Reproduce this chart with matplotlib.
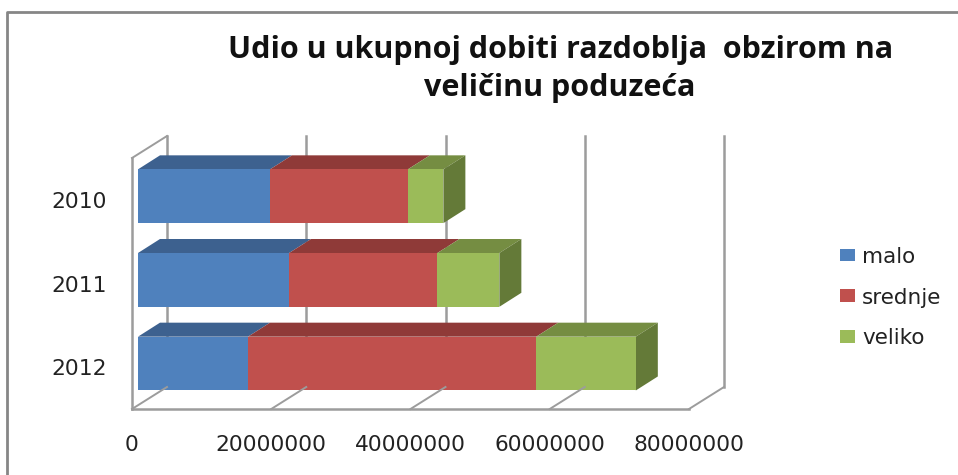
import matplotlib
matplotlib.use('Agg')
import matplotlib.pyplot as plt
from matplotlib.lines import Line2D
from matplotlib.patches import Polygon
from matplotlib.transforms import Affine2D

years = ['2010', '2011', '2012']
malo = [18960000, 21700000, 15800000]
srednje = [19800000, 21300000, 41400000]
veliko = [5100000, 8900000, 14300000]
x_ticks = [0, 20000000, 40000000, 60000000, 80000000]

series = [('malo', malo, '#4F81BD', '#3D618F', '#3D618F'),
          ('srednje', srednje, '#C0504D', '#8F3A38', '#8F3A38'),
          ('veliko', veliko, '#9BBB59', '#758D42', '#647A38')]

W, H = 958, 475
GRID = '#9C9C9C'

fig = plt.figure(figsize=(W / 100, H / 100), dpi=100, facecolor='white')
ax = fig.add_axes([132 / W, (H - 409) / H, (689 - 132) / W, (409 - 158) / H])
ax.set_xlim(0, 80000000)
ax.set_ylim(2.5, -0.5)
ax.patch.set_visible(False)
for s in ax.spines.values():
    s.set_visible(False)

ax.set_xticks(x_ticks, [str(t) for t in x_ticks], fontsize=15.7, color='#222222')
ax.set_yticks(range(len(years)), years, fontsize=15.7, color='#222222')
ax.tick_params(axis='x', length=0, pad=18.5)
ax.tick_params(axis='y', length=0, pad=18)


def shifted(dx, dy):
    return ax.transData + Affine2D().translate(dx, dy)


# walls and floor of the fake 3d box
back = shifted(35, 22)
for t in x_ticks:
    ax.plot([t, t], [-0.5, 2.5], color=GRID, lw=1.8, transform=back, clip_on=False, zorder=1)
    fx, fy = ax.transData.transform((t, 2.5))
    fig.add_artist(Line2D([fx / W, (fx + 35) / W], [fy / H, (fy + 22) / H], color=GRID, lw=1.4, zorder=1))
ax.plot([0, 80000000], [2.5, 2.5], color=GRID, lw=1.8, clip_on=False, zorder=1)
ax.plot([0, 0], [-0.5, 2.5], color=GRID, lw=1.8, clip_on=False, zorder=1)
tx, ty = ax.transData.transform((0, -0.5))
fig.add_artist(Line2D([tx / W, (tx + 35) / W], [ty / H, (ty + 22) / H], color=GRID, lw=1.4, zorder=1))

# bars: front face from barh, top and side faces as offset polygons
front = shifted(6, 3.6)
DX, DY = 22, 14
height = 0.643
left = [0, 0, 0]
handles = []
for name, vals, col, top_col, side_col in series:
    bars = ax.barh(range(len(years)), vals, height=height, left=left, color=col, label=name, zorder=3)
    for p in bars:
        p.set_transform(front)
        p.set_clip_on(False)
    handles.append(bars)
    for i, v in enumerate(vals):
        x0, y0 = front.transform((left[i], i + height / 2))
        x1, y1 = front.transform((left[i] + v, i - height / 2))
        ax.add_patch(Polygon([(x0, y1), (x1, y1), (x1 + DX, y1 + DY), (x0 + DX, y1 + DY)],
                             closed=True, facecolor=top_col, edgecolor='none',
                             transform=None, clip_on=False, zorder=2))
        if name == 'veliko':
            ax.add_patch(Polygon([(x1, y0), (x1, y1), (x1 + DX, y1 + DY), (x1 + DX, y0 + DY)],
                                 closed=True, facecolor=side_col, edgecolor='none',
                                 transform=None, clip_on=False, zorder=2))
        left[i] += v

fig.legend(handles=handles, loc='center left', bbox_to_anchor=(840 / W, (H - 297.5) / H), frameon=False,
           fontsize=15.5, handlelength=0.7, handleheight=0.55, handletextpad=0.33, labelspacing=0.97,
           labelcolor='#222222', borderpad=0, borderaxespad=0)

fig.text(561 / W, (H - 50) / H, 'Udio u ukupnoj dobiti razdoblja  obzirom na', ha='center', va='center',
         family='Open Sans', fontweight='bold', fontsize=22, color='#111111')
fig.text(560 / W, (H - 88) / H, 'veličinu poduzeća', ha='center', va='center',
         family='Open Sans', fontweight='bold', fontsize=22, color='#111111')

# outer frame, only left and top show in the crop
fig.add_artist(Line2D([7 / W, 7 / W, 1], [0, (H - 12) / H, (H - 12) / H], color='#868686', lw=2))

fig.savefig('out.png', dpi=100)
